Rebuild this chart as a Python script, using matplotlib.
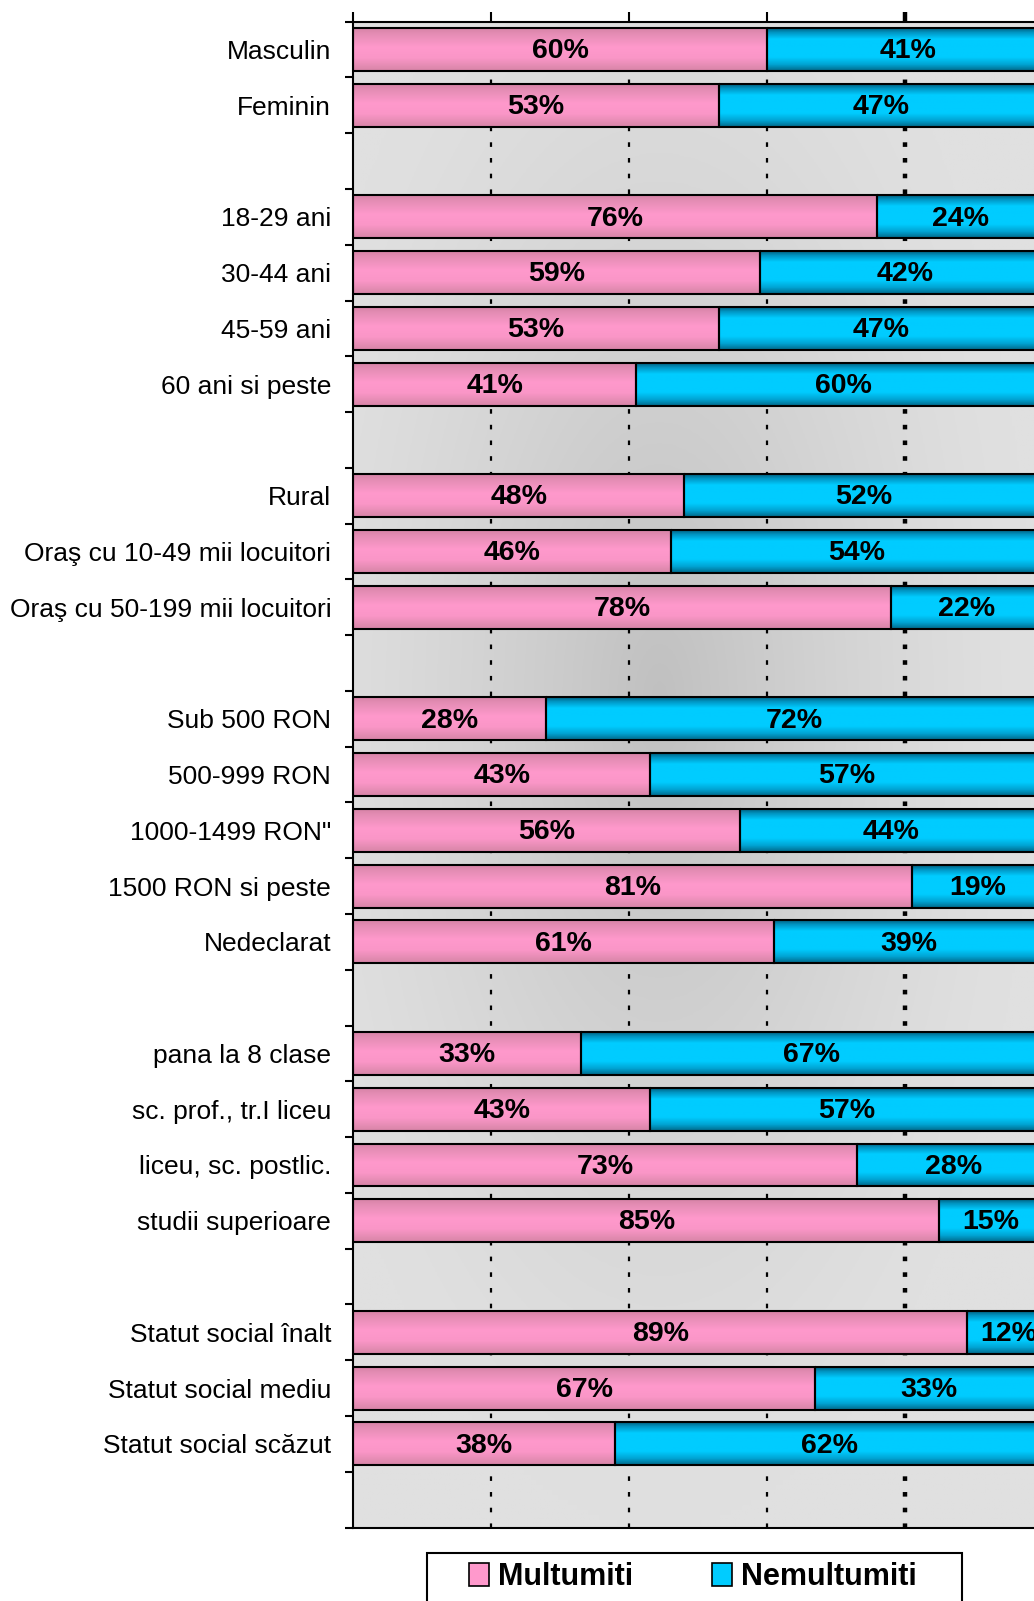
import numpy as np
import matplotlib
matplotlib.use('Agg')
import matplotlib.pyplot as plt
from matplotlib.patches import Patch, Rectangle

plt.rcParams['font.family'] = ['Liberation Sans', 'DejaVu Sans']
plt.rcParams['lines.scale_dashes'] = False

# '' marks an empty separator row
categories = ['Masculin', 'Feminin', '',
              '18-29 ani', '30-44 ani', '45-59 ani', '60 ani si peste', '',
              'Rural', 'Oraş cu 10-49 mii locuitori', 'Oraş cu 50-199 mii locuitori', '',
              'Sub 500 RON', '500-999 RON', '1000-1499 RON"', '1500 RON si peste', 'Nedeclarat', '',
              'pana la 8 clase', 'sc. prof., tr.I liceu', 'liceu, sc. postlic.', 'studii superioare', '',
              'Statut social înalt', 'Statut social mediu', 'Statut social scăzut', '']
multumiti = [60, 53, None,
             76, 59, 53, 41, None,
             48, 46, 78, None,
             28, 43, 56, 81, 61, None,
             33, 43, 73, 85, None,
             89, 67, 38, None]
nemultumiti = [41, 47, None,
               24, 42, 47, 60, None,
               52, 54, 22, None,
               72, 57, 44, 19, 39, None,
               67, 57, 28, 15, None,
               12, 33, 62, None]
series_names = ['Multumiti', 'Nemultumiti']

PINK = '#ff99cc'
CYAN = '#00ccff'
W, H = 1034, 1601


def hex_rgb(h):
    return np.array([int(h[i:i + 2], 16) / 255 for i in (1, 3, 5)])


def gradient(stops):
    t = np.linspace(0, 1, 64)
    pos = [s[0] for s in stops]
    cols = np.array([hex_rgb(s[1]) for s in stops])
    g = np.stack([np.interp(t, pos, cols[:, k]) for k in range(3)], axis=-1)
    return g[:, None, :]


pink_grad = gradient([(0, '#d884a8'), (0.15, '#e68eb6'), (0.45, '#ff99cc'),
                      (0.7, '#fa96c7'), (0.9, '#e28bb1'), (1, '#d884a8')])
cyan_grad = gradient([(0, '#006484'), (0.1, '#0096c4'), (0.25, '#00ccff'),
                      (0.68, '#00ccff'), (0.85, '#00a4d4'), (1, '#006a8a')])

fig = plt.figure(figsize=(W / 100, H / 100), dpi=100)
ax = fig.add_axes([353.4 / W, 1 - 1527.5 / H, 1 - 353.4 / W, (1527.5 - 21.7) / H])

# background radial shading
gx, gy = np.meshgrid(np.linspace(0, 1, 300), np.linspace(0, 1, 300))
r = np.sqrt(((gx - 0.45) / 0.55) ** 2 + ((gy - 0.55) / 0.55) ** 2)
v = (224 - 32 * np.clip(1 - r, 0, 1) ** 1.4) / 255
ax.imshow(np.dstack([v, v, v]), extent=(0, 1, 0, 1), origin='lower',
          transform=ax.transAxes, aspect='auto', zorder=0)

n = len(categories)
ypos = np.arange(n)
bh = 0.77
xmax = (W - 353.4) / 689.5

for gxv in [0.2, 0.4, 0.6, 0.8]:
    ax.axvline(gxv, color='black', lw=3.2 if gxv == 0.8 else 1.6,
               linestyle=(0, (3.3, 8)), zorder=1)

m = np.array([np.nan if a is None else a / 100 for a in multumiti])
nm = np.array([np.nan if a is None else a / 100 for a in nemultumiti])

b1 = ax.barh(ypos, m, height=bh, color=PINK, lw=0, zorder=2)
b2 = ax.barh(ypos, nm, left=m, height=bh, color=CYAN, lw=0, zorder=2)
for bars, grad in [(b1, pink_grad), (b2, cyan_grad)]:
    for p in bars.patches:
        if not np.isfinite(p.get_width()):
            continue
        x0, y0 = p.get_x(), p.get_y()
        im = ax.imshow(grad, extent=(x0, x0 + p.get_width(), y0 + p.get_height(), y0),
                       origin='upper', aspect='auto', zorder=2.2)
        im.set_clip_path(p)
ax.barh(ypos, m, height=bh, fill=False, edgecolor='black', lw=1.5, zorder=3)
ax.barh(ypos, nm, left=m, height=bh, fill=False, edgecolor='black', lw=1.5, zorder=3)

for i in range(n):
    if categories[i] == '':
        continue
    ax.text(m[i] / 2, i + 0.03, '%d%%' % multumiti[i], ha='center', va='center',
            fontsize=20.5, fontweight='bold', zorder=4)
    ax.text(m[i] + nm[i] / 2, i + 0.03, '%d%%' % nemultumiti[i], ha='center', va='center',
            fontsize=20.5, fontweight='bold', zorder=4)

ax.set_xlim(0, xmax)
ax.set_ylim(n - 0.5, -0.5)

ax.set_yticks(ypos)
ax.set_yticklabels(categories, fontsize=19)
ax.set_yticks(np.arange(n + 1) - 0.5, minor=True)
ax.tick_params(axis='y', which='major', length=0, pad=16)
ax.tick_params(axis='y', which='minor', length=6, width=1.5, direction='out')

ax.set_xticks([0, 0.2, 0.4, 0.6, 0.8])
ax.xaxis.set_ticks_position('top')
ax.tick_params(axis='x', which='major', length=7.5, width=1.5, direction='out',
               labeltop=False, labelbottom=False)
ax.xaxis.get_major_ticks()[4].tick2line.set_markeredgewidth(3.2)

for s in ['left', 'top', 'bottom']:
    ax.spines[s].set_linewidth(1.5)
    ax.spines[s].set_color('black')
ax.spines['right'].set_visible(False)

handles = [Patch(facecolor=PINK, edgecolor='black', lw=1.2),
           Patch(facecolor=CYAN, edgecolor='black', lw=1.2)]
fig.legend(handles, series_names, loc='center', bbox_to_anchor=(693 / W, 1 - 1577 / H),
           ncol=2, frameon=False, prop={'size': 22, 'weight': 'bold'},
           handlelength=0.65, handleheight=0.82, handletextpad=0.3, columnspacing=2.6,
           borderpad=0.2)
fig.patches.append(Rectangle((427 / W, -0.01), (962 - 427) / W, 0.01 + 1 - 1553 / H,
                             transform=fig.transFigure, fill=False, edgecolor='black', lw=1.5))

fig.savefig('out.png', dpi=100)
